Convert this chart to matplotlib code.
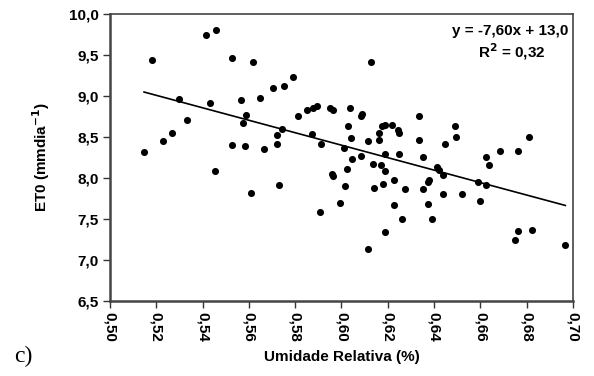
import numpy as np
import matplotlib.pyplot as plt

# umidade relativa (fração) e ET0
umidade = [0.5182, 0.5413, 0.5459, 0.5527, 0.5617, 0.5300, 0.5433, 0.5564, 0.5648,
           0.5587, 0.5573, 0.5333, 0.5267, 0.5228, 0.5525, 0.5583, 0.5147, 0.5664,
           0.5453, 0.5607, 0.6128, 0.5790, 0.5704, 0.5750, 0.5810, 0.5849, 0.5877,
           0.5894, 0.5949, 0.5964, 0.6036, 0.6087, 0.6084, 0.6029, 0.6040, 0.6176,
           0.6190, 0.6220, 0.6245, 0.6247, 0.6161, 0.6161, 0.6115, 0.6333, 0.6333,
           0.5743, 0.5723, 0.5874, 0.5723, 0.5910, 0.5732, 0.6010, 0.6047, 0.6084,
           0.6023, 0.5957, 0.5964, 0.6014, 0.5994, 0.5909, 0.6134, 0.6169, 0.6189,
           0.6190, 0.6248, 0.6225, 0.6180, 0.6140, 0.6274, 0.6352, 0.6352, 0.6226,
           0.6260, 0.6186, 0.6115, 0.6446, 0.6411, 0.6420, 0.6437, 0.6378, 0.6375,
           0.6440, 0.6520, 0.6374, 0.6391, 0.6590, 0.6625, 0.6600, 0.6625, 0.6636,
           0.6684, 0.6762, 0.6762, 0.6823, 0.6750, 0.6967, 0.6490, 0.6495, 0.6810]
et0 = [9.44, 9.74, 9.80, 9.46, 9.42, 8.96, 8.91, 8.95, 8.98,
       8.77, 8.67, 8.71, 8.55, 8.45, 8.40, 8.39, 8.32, 8.35,
       8.09, 7.82, 9.41, 9.23, 9.10, 9.12, 8.76, 8.83, 8.85,
       8.88, 8.85, 8.83, 8.85, 8.78, 8.76, 8.63, 8.49, 8.64,
       8.65, 8.65, 8.59, 8.55, 8.55, 8.46, 8.45, 8.75, 8.46,
       8.60, 8.53, 8.54, 8.41, 8.41, 7.92, 8.36, 8.23, 8.27,
       8.11, 8.05, 8.02, 7.90, 7.70, 7.58, 8.17, 8.16, 8.29,
       8.08, 8.29, 7.98, 7.93, 7.88, 7.87, 7.87, 8.25, 7.67,
       7.50, 7.34, 7.13, 8.41, 8.14, 8.10, 8.04, 7.98, 7.95,
       7.81, 7.80, 7.68, 7.50, 7.95, 7.92, 7.72, 8.26, 8.16,
       8.33, 8.33, 7.35, 7.36, 7.24, 7.18, 8.63, 8.50, 8.50]

# reta de tendência mostrada no gráfico
slope = -7.60
intercept = 12.96
eq_text = "y = -7,60x + 13,0"
r2_text = "R$^\\mathbf{2}$ = 0,32"

xticks = [0.50, 0.52, 0.54, 0.56, 0.58, 0.60, 0.62, 0.64, 0.66, 0.68, 0.70]
yticks = [6.5, 7.0, 7.5, 8.0, 8.5, 9.0, 9.5, 10.0]

plt.rcParams['font.family'] = ['Liberation Sans', 'DejaVu Sans']

fig = plt.figure(figsize=(5.94, 3.76), dpi=100)
ax = fig.add_axes([0.1852, 0.1995, 0.9646 - 0.1852, 0.9628 - 0.1995])

ax.scatter(umidade, et0, s=26, color='black', zorder=3, linewidths=0)

xs = np.array([min(umidade), max(umidade)])
ax.plot(xs, slope * xs + intercept, color='black', lw=1.2)

ax.set_xlim(0.50, 0.70)
ax.set_ylim(6.5, 10.0)
ax.set_xticks(xticks)
ax.set_xticklabels([f"{v:.2f}".replace('.', ',') for v in xticks],
                   rotation=270, fontweight='bold', fontsize=11)
ax.set_yticks(yticks)
ax.set_yticklabels([f"{v:.1f}".replace('.', ',') for v in yticks],
                   fontweight='bold', fontsize=11)
ax.tick_params(direction='out', length=5, width=1, color='#333333', pad=3)

for side in ['left', 'bottom', 'right', 'top']:
    ax.spines[side].set_color('#444444')
    ax.spines[side].set_linewidth(1.2)
ax.spines['left'].set_linewidth(1.8)
ax.spines['bottom'].set_linewidth(1.8)

ax.set_xlabel("Umidade Relativa (%)", fontweight='bold', fontsize=11, labelpad=6)
ax.set_ylabel("ET0 (mmdia$^{\\mathbf{-1}}$)", fontweight='bold', fontsize=11, labelpad=12)

ax.text(0.99, 0.94, eq_text, transform=ax.transAxes, ha='right', va='center',
        fontweight='bold', fontsize=11)
ax.text(0.868, 0.868, r2_text, transform=ax.transAxes, ha='center', va='center',
        fontweight='bold', fontsize=11)

fig.text(14 / 594, 1 - 356 / 376, "c)", family='Liberation Serif', fontsize=17,
         va='center', ha='left')

fig.savefig("out.png", dpi=100)
